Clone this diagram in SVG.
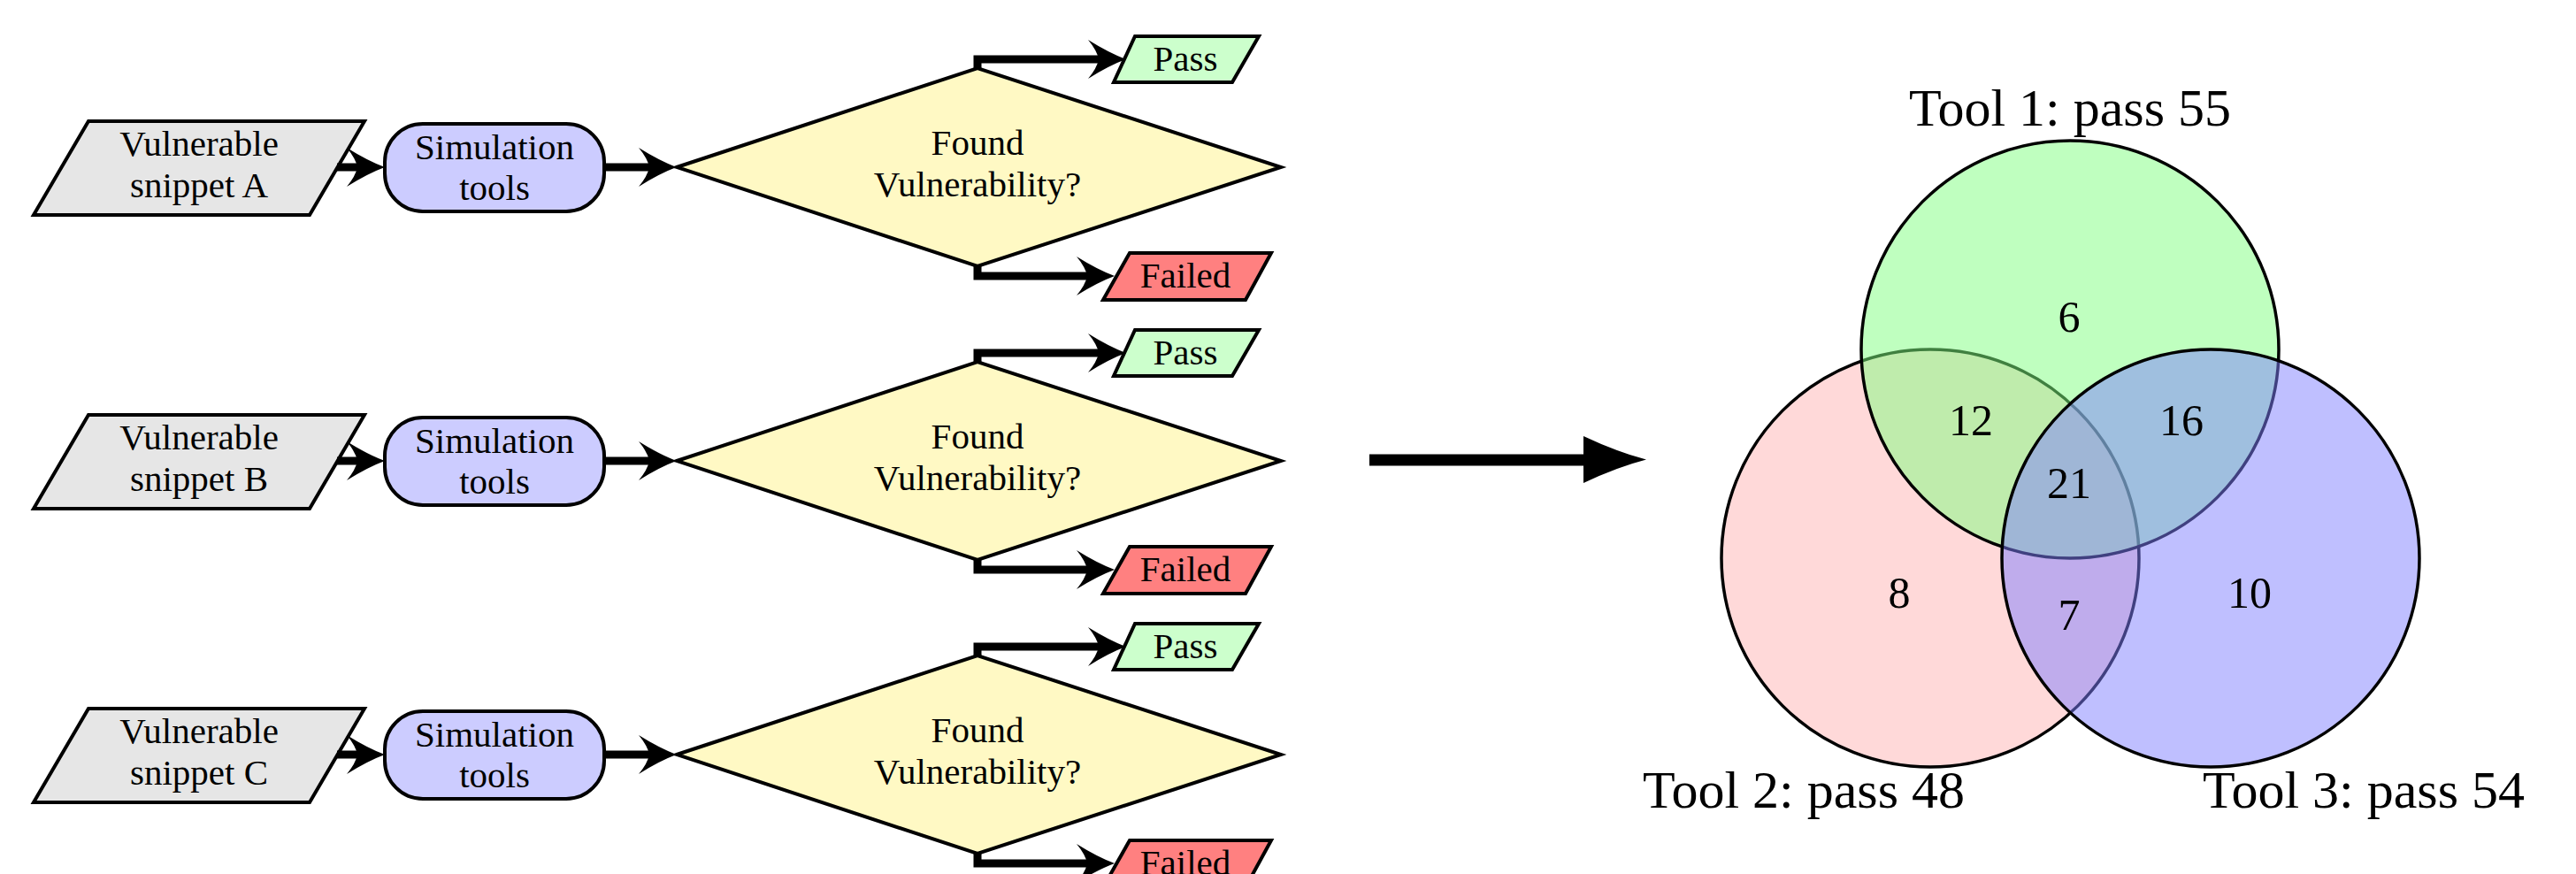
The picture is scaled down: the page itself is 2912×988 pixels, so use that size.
<svg xmlns="http://www.w3.org/2000/svg" width="2912" height="988" viewBox="0 0 2912 988">
<style>
text{font-family:"Liberation Serif","DejaVu Serif",serif;fill:#000;text-anchor:middle}
.t{font-size:41px}
.n{font-size:50px}
.h{font-size:60px}
.in{fill:#e6e6e6;stroke:#000;stroke-width:4;stroke-linejoin:miter}
.sim{fill:#ccccff;stroke:#000;stroke-width:4}
.dec{fill:#fff9c4;stroke:#000;stroke-width:4;stroke-linejoin:miter}
.pass{fill:#ccffcc;stroke:#000;stroke-width:4}
.fail{fill:#ff8080;stroke:#000;stroke-width:4}
.c{fill:none;stroke:#000;stroke-width:9;stroke-linejoin:miter;marker-end:url(#ah)}
.v{stroke:#000;stroke-width:3.5}
</style>
<defs>
<marker id="ah" viewBox="0 0 46 46" refX="14" refY="23" markerWidth="46" markerHeight="46" markerUnits="userSpaceOnUse" orient="auto" overflow="visible">
<path d="M45,23 Q26,16 2,1 Q12,13 14,23 Q12,33 2,45 Q26,30 45,23 Z" fill="#000"/>
</marker>
<g id="row">
<g id="snip"><polygon class="in" points="100,137 412,137 350,243 38,243"/></g>
<g id="simt"><rect class="sim" x="435" y="140" width="248" height="99" rx="43" ry="43"/>
<text class="t" x="559" y="180">Simulation</text><text class="t" x="559" y="226">tools</text></g>
<g id="dia"><polygon class="dec" points="765,189 1105,77 1448,189 1105,301"/>
<text class="t" x="1105" y="175">Found</text><text class="t" x="1105" y="222">Vulnerability?</text></g>
<g id="ps"><polygon class="pass" points="1283,41 1423,41 1393,93 1259,93"/><text class="t" x="1340" y="80">Pass</text></g>
<g id="fl"><polygon class="fail" points="1277,286 1437,286 1408,339 1247,339"/><text class="t" x="1340" y="325">Failed</text></g>
<g id="conn">
<path class="c" d="M381,189 L404,189"/>
<path class="c" d="M683,189 L734,189"/>
<path class="c" d="M1105,77 L1105,67 L1242,67"/>
<path class="c" d="M1105,301 L1105,312 L1229,312"/>
</g>
</g>
</defs>
<rect width="2912" height="988" fill="#fff"/>
<g id="rowA">
<use href="#row"/>
<text class="t" x="225" y="176">Vulnerable</text><text class="t" x="225" y="223">snippet A</text>
</g>
<g id="rowB" transform="translate(0,332)">
<use href="#row"/>
<text class="t" x="225" y="176">Vulnerable</text><text class="t" x="225" y="223">snippet B</text>
</g>
<g id="rowC" transform="translate(0,664)">
<use href="#row"/>
<text class="t" x="225" y="176">Vulnerable</text><text class="t" x="225" y="223">snippet C</text>
</g>
<g id="connectors">
<path d="M1548,513.5 L1792,513.5 L1792,526.5 L1548,526.5 Z" fill="#000"/>
<path d="M1861,519.5 Q1828,511 1790,493 L1790,546 Q1828,528 1861,519.5 Z" fill="#000"/>
</g>
<g id="venn">
<g id="tool2"><circle class="v" cx="2182" cy="631" r="236" fill="#ffb3b3" fill-opacity="0.5"/></g>
<g id="tool1"><circle class="v" cx="2340" cy="395" r="236" fill="#80ff80" fill-opacity="0.5"/></g>
<g id="tool3"><circle class="v" cx="2499" cy="631" r="236" fill="#8080ff" fill-opacity="0.5"/></g>
<text class="h" x="2340" y="142">Tool 1: pass 55</text>
<text class="h" x="2039" y="913">Tool 2: pass 48</text>
<text class="h" x="2672" y="913">Tool 3: pass 54</text>
<text class="n" x="2339" y="375">6</text>
<text class="n" x="2228" y="492">12</text>
<text class="n" x="2466" y="492">16</text>
<text class="n" x="2339" y="563">21</text>
<text class="n" x="2147" y="687">8</text>
<text class="n" x="2339" y="712">7</text>
<text class="n" x="2543" y="687">10</text>
</g>
</svg>
